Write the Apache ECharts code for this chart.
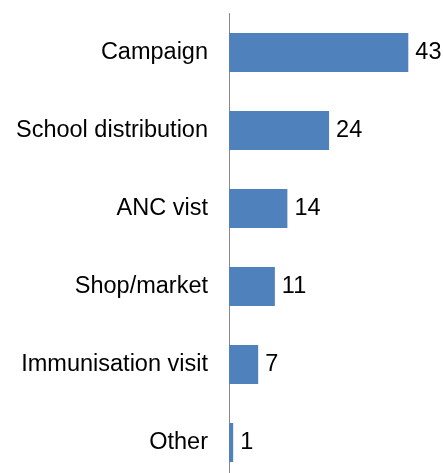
<!DOCTYPE html>
<html><head><meta charset="utf-8">
<script src="https://cdn.jsdelivr.net/npm/echarts@6/dist/echarts.min.js"></script>
<style>html,body{margin:0;padding:0;background:#fff}#c{width:443px;height:473px}</style>
</head><body><div id="c"></div>
<script>
var categories = ["Campaign", "School distribution", "ANC vist", "Shop/market", "Immunisation visit", "Other"];
var values = [43, 24, 14, 11, 7, 1];
var chart = echarts.init(document.getElementById('c'), null, {renderer: 'canvas'});
chart.setOption({
  animation: false,
  grid: {left: 229, top: 13.5, right: 5.5, bottom: -8.5, containLabel: false, outerBoundsMode: 'none'},
  xAxis: {type: 'value', min: 0, max: 50, show: false},
  yAxis: {
    type: 'category', data: categories, inverse: true,
    axisLine: {show: true, lineStyle: {color: '#888888', width: 1}},
    axisTick: {show: false},
    axisLabel: {color: '#000', fontFamily: 'Liberation Sans', fontSize: 23.5, margin: 21}
  },
  series: [{
    type: 'bar', data: values, barCategoryGap: '50%',
    itemStyle: {color: '#4f81bd'},
    label: {show: true, position: 'right', distance: 7, color: '#000', fontFamily: 'Liberation Sans', fontSize: 23.5}
  }]
});
</script></body></html>
